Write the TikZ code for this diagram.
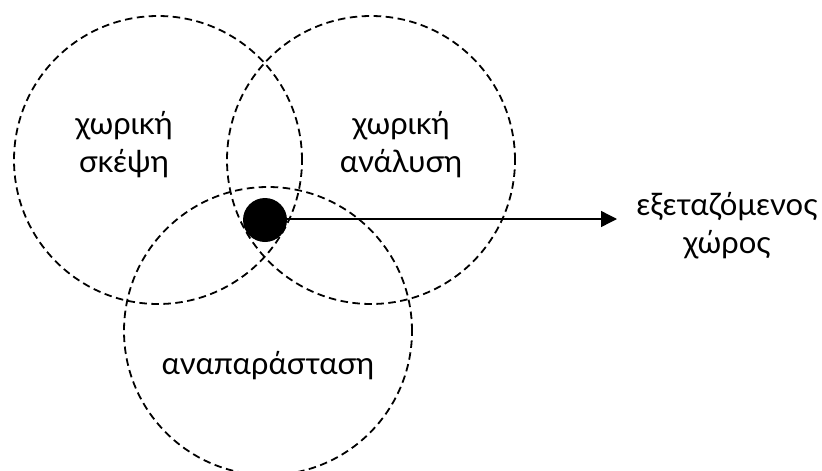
\documentclass[tikz,border=0pt]{standalone}
\usepackage{fontspec}
\setmainfont{Lato}
\usetikzlibrary{arrows.meta}
\tikzset{
  zone/.style={draw, dash pattern=on 7.5pt off 4.5pt, line width=1.8pt},
  lbl/.style={align=center, font=\fontsize{31}{38}\selectfont, inner sep=0pt},
  hub/.style={circle, fill=black, minimum size=44pt, inner sep=0pt},
  link/.style={line width=1.4pt, -{Triangle[length=16pt,width=16pt]}}
}
\begin{document}
\begin{tikzpicture}[x=1pt,y=-1pt]
  \useasboundingbox (0,0) rectangle (822,471);
  \clip (0,0) rectangle (822,471);
  % the three overlapping fields
  \draw[zone] (158,160) circle (144pt);
  \draw[zone] (371,160) circle (144pt);
  \draw[zone] (268,331) circle (144pt);
  % labels of the fields
  \node[lbl] (thought) at (124,145) {χωρική\\σκέψη};
  \node[lbl] (analysis) at (401,145) {χωρική\\ανάλυση};
  \node[lbl] (repr) at (268,366) {αναπαράσταση};
  % common centre and the examined space
  \node[hub] (core) at (265,220) {};
  \node[lbl] (space) at (727,226) {εξεταζόμενος\\χώρος};
  \coordinate (tip) at (617,219);
  \draw[link] (core.east |- tip) -- (tip);
\end{tikzpicture}
\end{document}
